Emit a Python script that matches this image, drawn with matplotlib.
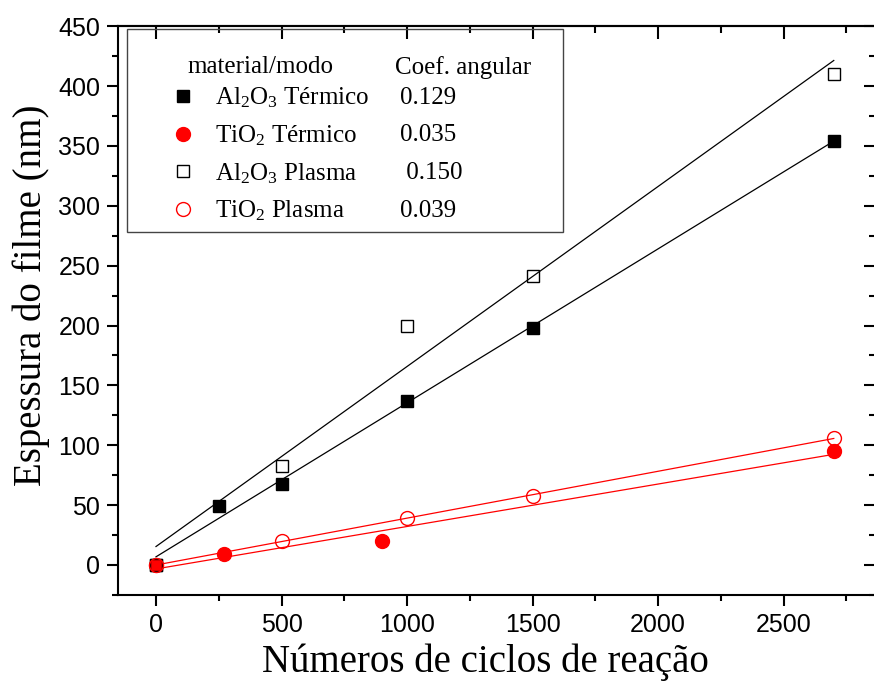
import numpy as np
import matplotlib.pyplot as plt
from matplotlib.patches import Rectangle
from matplotlib.ticker import MultipleLocator

plt.rcParams['mathtext.fontset'] = 'custom'
plt.rcParams['mathtext.rm'] = 'Liberation Serif'
plt.rcParams['mathtext.it'] = 'Liberation Serif:italic'

# Al2O3 termico (quadrado cheio)
al_t_x = [0, 250, 500, 1000, 1500, 2700]
al_t_y = [0, 49, 68, 137, 198, 354]
# TiO2 termico (circulo cheio)
ti_t_x = [0, 270, 900, 2700]
ti_t_y = [0, 9, 20, 95]
# Al2O3 plasma (quadrado vazio)
al_p_x = [0, 500, 1000, 1500, 2700]
al_p_y = [0, 83, 200, 241, 410]
# TiO2 plasma (circulo vazio)
ti_p_x = [0, 500, 1000, 1500, 2700]
ti_p_y = [0, 20, 39, 58, 106]

names = ['Al$_2$O$_3$ Térmico', 'TiO$_2$ Térmico', 'Al$_2$O$_3$ Plasma', 'TiO$_2$ Plasma']
coefs = ['0.129', '0.035', ' 0.150', '0.039']

serif = 'Liberation Serif'
sans = 'Liberation Sans'

fig = plt.figure(figsize=(8.74, 6.81), dpi=100)
ax = fig.add_axes([0.1354, 0.1264, 0.8674, 0.8352])

series = [
    (al_t_x, al_t_y, dict(marker='s', color='k', ms=8.5, mfc='k', mec='k')),
    (ti_t_x, ti_t_y, dict(marker='o', color='r', ms=10, mfc='r', mec='r')),
    (al_p_x, al_p_y, dict(marker='s', color='k', ms=8.5, mfc='none', mec='k', mew=1)),
    (ti_p_x, ti_p_y, dict(marker='o', color='r', ms=10, mfc='none', mec='r', mew=1)),
]

handles = []
for x, y, st in series:
    # ajuste linear
    a, b = np.polyfit(x, y, 1)
    xf = np.array([0, max(x)])
    ax.plot(xf, a * xf + b, color=st['color'], lw=0.9, zorder=2)
    h, = ax.plot(x, y, ls='none', zorder=3, **st)
    handles.append(h)

ax.set_xlim(-150, 2870)
ax.set_ylim(-25, 450)
ax.xaxis.set_major_locator(MultipleLocator(500))
ax.xaxis.set_minor_locator(MultipleLocator(250))
ax.yaxis.set_major_locator(MultipleLocator(50))
ax.yaxis.set_minor_locator(MultipleLocator(25))

for s in ax.spines.values():
    s.set_linewidth(1.5)
ax.tick_params(which='major', direction='out', length=8, width=1.5, pad=5, labelsize=18)
ax.tick_params(which='minor', direction='out', length=4, width=1.5)
for lab in ax.get_xticklabels() + ax.get_yticklabels():
    lab.set_fontfamily(sans)

# ticks internos em cima e a direita
top = ax.secondary_xaxis('top')
top.xaxis.set_major_locator(MultipleLocator(500))
top.xaxis.set_minor_locator(MultipleLocator(250))
top.tick_params(which='major', direction='in', length=9, width=1.5, labeltop=False)
top.tick_params(which='minor', direction='in', length=5, width=1.5)
top.spines['top'].set_linewidth(1.5)
right = ax.secondary_yaxis('right')
right.yaxis.set_major_locator(MultipleLocator(50))
right.yaxis.set_minor_locator(MultipleLocator(25))
right.tick_params(which='major', direction='in', length=9, width=1.5, labelright=False)
right.tick_params(which='minor', direction='in', length=5, width=1.5)

ax.set_xlabel('Números de ciclos de reação', fontsize=28, family=serif)
ax.set_ylabel('Espessura do filme (nm)', fontsize=28, family=serif)
ax.xaxis.set_label_coords(0.4837, -0.085)
ax.yaxis.set_label_coords(-0.09, 0.527)

# caixa da legenda
ax.add_patch(Rectangle((0.0115, 0.638), 0.575, 0.357, transform=ax.transAxes,
                       fill=False, edgecolor='#444444', lw=1, zorder=4))
ax.text(0.0906, 0.928, 'material/modo', transform=ax.transAxes, fontsize=18,
        family=serif, va='center', ha='left')
ax.text(0.365, 0.928, 'Coef. angular', transform=ax.transAxes, fontsize=18,
        family=serif, va='center', ha='left')
leg = ax.legend(handles, names, loc='upper left', bbox_to_anchor=(0.0689, 0.895),
                frameon=False, borderpad=0, borderaxespad=0, handlelength=1,
                handletextpad=0.78, labelspacing=0.52, prop={'family': serif, 'size': 18})
row_y = [0.873, 0.809, 0.742, 0.675]
for c, yy in zip(coefs, row_y):
    ax.text(0.3715, yy, c, transform=ax.transAxes, fontsize=18, family=serif,
            va='center', ha='left')

fig.savefig('out.png', dpi=100)
